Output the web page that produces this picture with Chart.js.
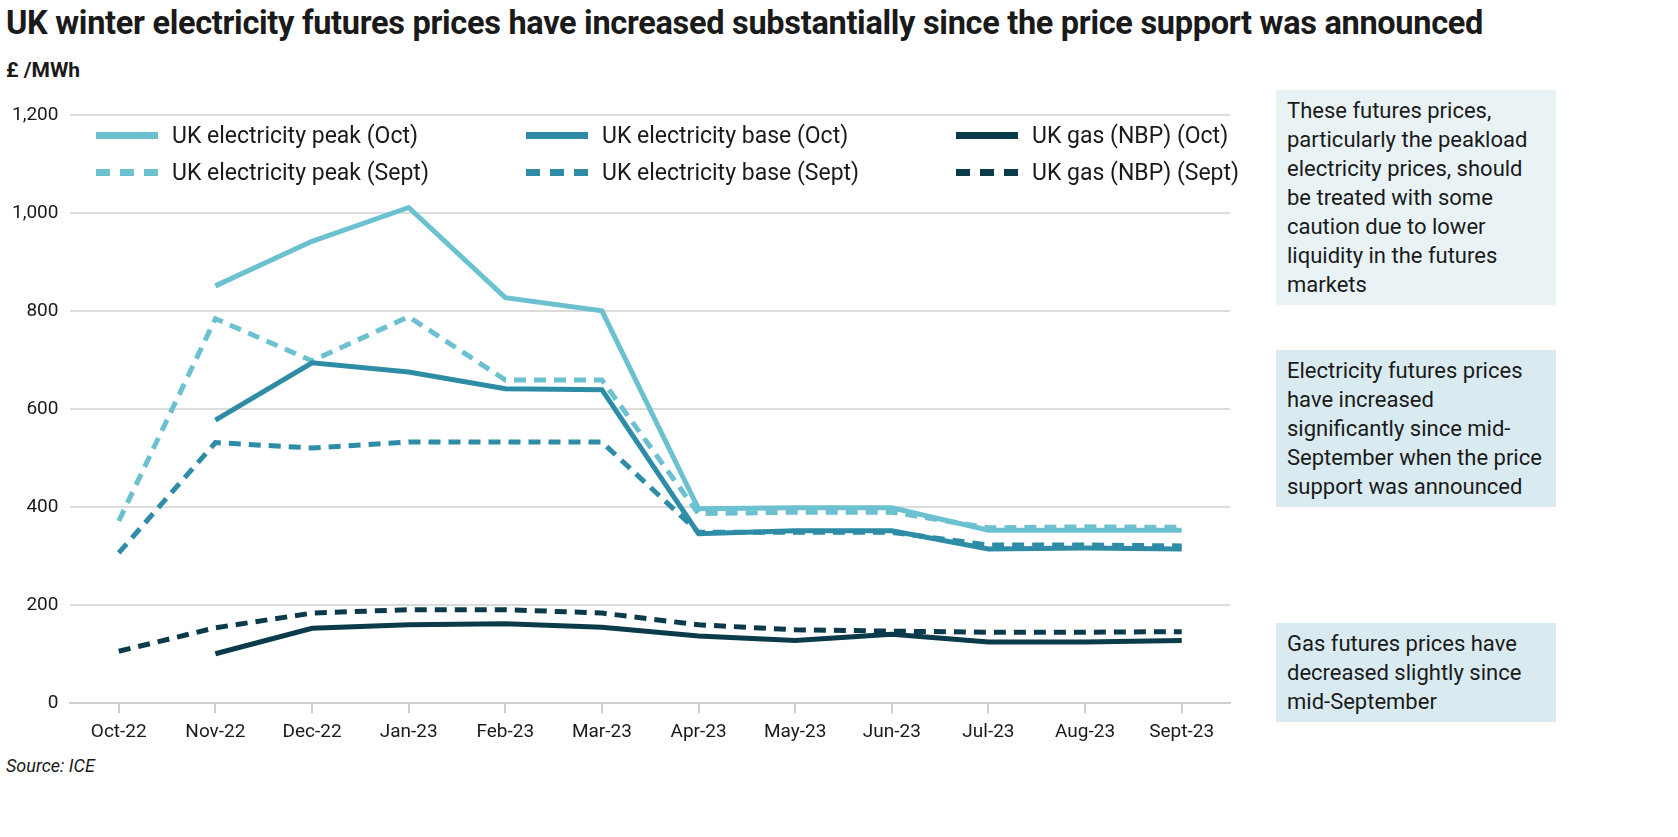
<!DOCTYPE html>
<html>
<head>
<meta charset="utf-8">
<script src="https://cdn.jsdelivr.net/npm/chart.js@4"></script>
<style>
  body { margin: 0; width: 1678px; height: 837px; background: #fff; font-family: "Liberation Sans Narrow", "Roboto", sans-serif; color: #1a1a1a; position: relative; overflow: hidden; }
  #title { position: absolute; left: 6px; top: 4px; font-size: 32.5px; font-weight: bold; letter-spacing: -0.3px; }
  #unit { position: absolute; left: 6px; top: 58px; font-size: 21px; font-weight: bold; }
  #source { position: absolute; left: 6px; top: 755px; font-size: 18px; font-style: italic; }
  #wrap { position: absolute; left: 0; top: 92px; width: 1240px; height: 660px; }
  .box { position: absolute; left: 1276px; width: 258px; padding: 6px 11px; font-size: 22px; line-height: 29px; }
  #legend { position: absolute; left: 96px; top: 122px; display: grid; grid-template-columns: 430px 430px 300px; row-gap: 10px; font-size: 23px; }
  .li { display: flex; align-items: center; }
  .li span.sw { display: inline-block; width: 62px; height: 0; margin-right: 14px; border-top-width: 7px; }
</style>
</head>
<body>
<div id="title">UK winter electricity futures prices have increased substantially since the price support was announced</div>
<div id="unit">£ /MWh</div>
<div id="wrap"><canvas id="c"></canvas></div>
<div id="legend"></div>
<div class="box" style="top:90px;background:#e9f3f6;">These futures prices, particularly the peakload electricity prices, should be treated with some caution due to lower liquidity in the futures markets</div>
<div class="box" style="top:350px;background:#d9ebf0;">Electricity futures prices have increased significantly since mid-September when the price support was announced</div>
<div class="box" style="top:623px;background:#d9ebf0;">Gas futures prices have decreased slightly since mid-September</div>
<div id="source">Source: ICE</div>
<script>
const months = ['Oct-22','Nov-22','Dec-22','Jan-23','Feb-23','Mar-23','Apr-23','May-23','Jun-23','Jul-23','Aug-23','Sept-23'];
const peakOct = [null,852,943,1012,828,801,397,399,399,353,353,353];
const baseOct = [null,578,695,676,642,640,346,352,352,315,317,315];
const gasOct = [null,101,153,160,162,155,137,128,141,125,125,128];
const peakSept = [372,785,699,789,660,660,387,390,390,358,360,359];
const baseSept = [307,532,521,533,533,533,349,349,349,323,323,321];
const gasSept = [106,154,184,191,191,184,160,150,147,145,145,146];
const yTicks = [0,200,400,600,800,1000,1200];

const cPeak = '#6cc1d1', cBase = '#2e8ca6', cGas = '#0b3b4b';
const series = [
  { label: 'UK electricity peak (Oct)', data: peakOct, color: cPeak, dash: [] },
  { label: 'UK electricity base (Oct)', data: baseOct, color: cBase, dash: [] },
  { label: 'UK gas (NBP) (Oct)', data: gasOct, color: cGas, dash: [] },
  { label: 'UK electricity peak (Sept)', data: peakSept, color: cPeak, dash: [12, 8] },
  { label: 'UK electricity base (Sept)', data: baseSept, color: cBase, dash: [12, 8] },
  { label: 'UK gas (NBP) (Sept)', data: gasSept, color: cGas, dash: [12, 8] },
];

const legend = document.getElementById('legend');
series.forEach(s => {
  const d = document.createElement('div');
  d.className = 'li';
  const sw = document.createElement('span');
  sw.className = 'sw';
  sw.style.borderTopStyle = s.dash.length ? 'dashed' : 'solid';
  sw.style.borderTopColor = s.color;
  d.appendChild(sw);
  d.appendChild(document.createTextNode(s.label));
  legend.appendChild(d);
});

new Chart(document.getElementById('c'), {
  type: 'line',
  data: {
    labels: months,
    datasets: series.map(s => ({
      label: s.label, data: s.data, borderColor: s.color, borderDash: s.dash,
      borderWidth: 5, pointRadius: 0, tension: 0, fill: false,
      order: s.dash.length ? 1 : 0
    }))
  },
  options: {
    responsive: true, maintainAspectRatio: false, animation: false,
    layout: { padding: { left: 0, right: 10, top: 8, bottom: 0 } },
    plugins: { legend: { display: false }, tooltip: { enabled: false } },
    scales: {
      x: {
        offset: true,
        grid: { drawOnChartArea: false, color: '#cfcfcf', lineWidth: 2, tickLength: 10 },
        border: { color: '#cfcfcf', width: 2 },
        ticks: { color: '#1a1a1a', font: { family: '"Liberation Sans Narrow", Roboto, sans-serif', size: 19 }, padding: 8, maxRotation: 0 }
      },
      y: {
        min: 0, max: 1200,
        afterBuildTicks: ax => { ax.ticks = yTicks.map(v => ({ value: v })); },
        grid: { color: '#dcdcdc', lineWidth: 2, drawTicks: false },
        border: { display: false },
        ticks: { color: '#1a1a1a', font: { family: '"Liberation Sans Narrow", Roboto, sans-serif', size: 19 }, padding: 12,
                 callback: v => v.toLocaleString('en-GB') }
      }
    }
  }
});
</script>
</body>
</html>
